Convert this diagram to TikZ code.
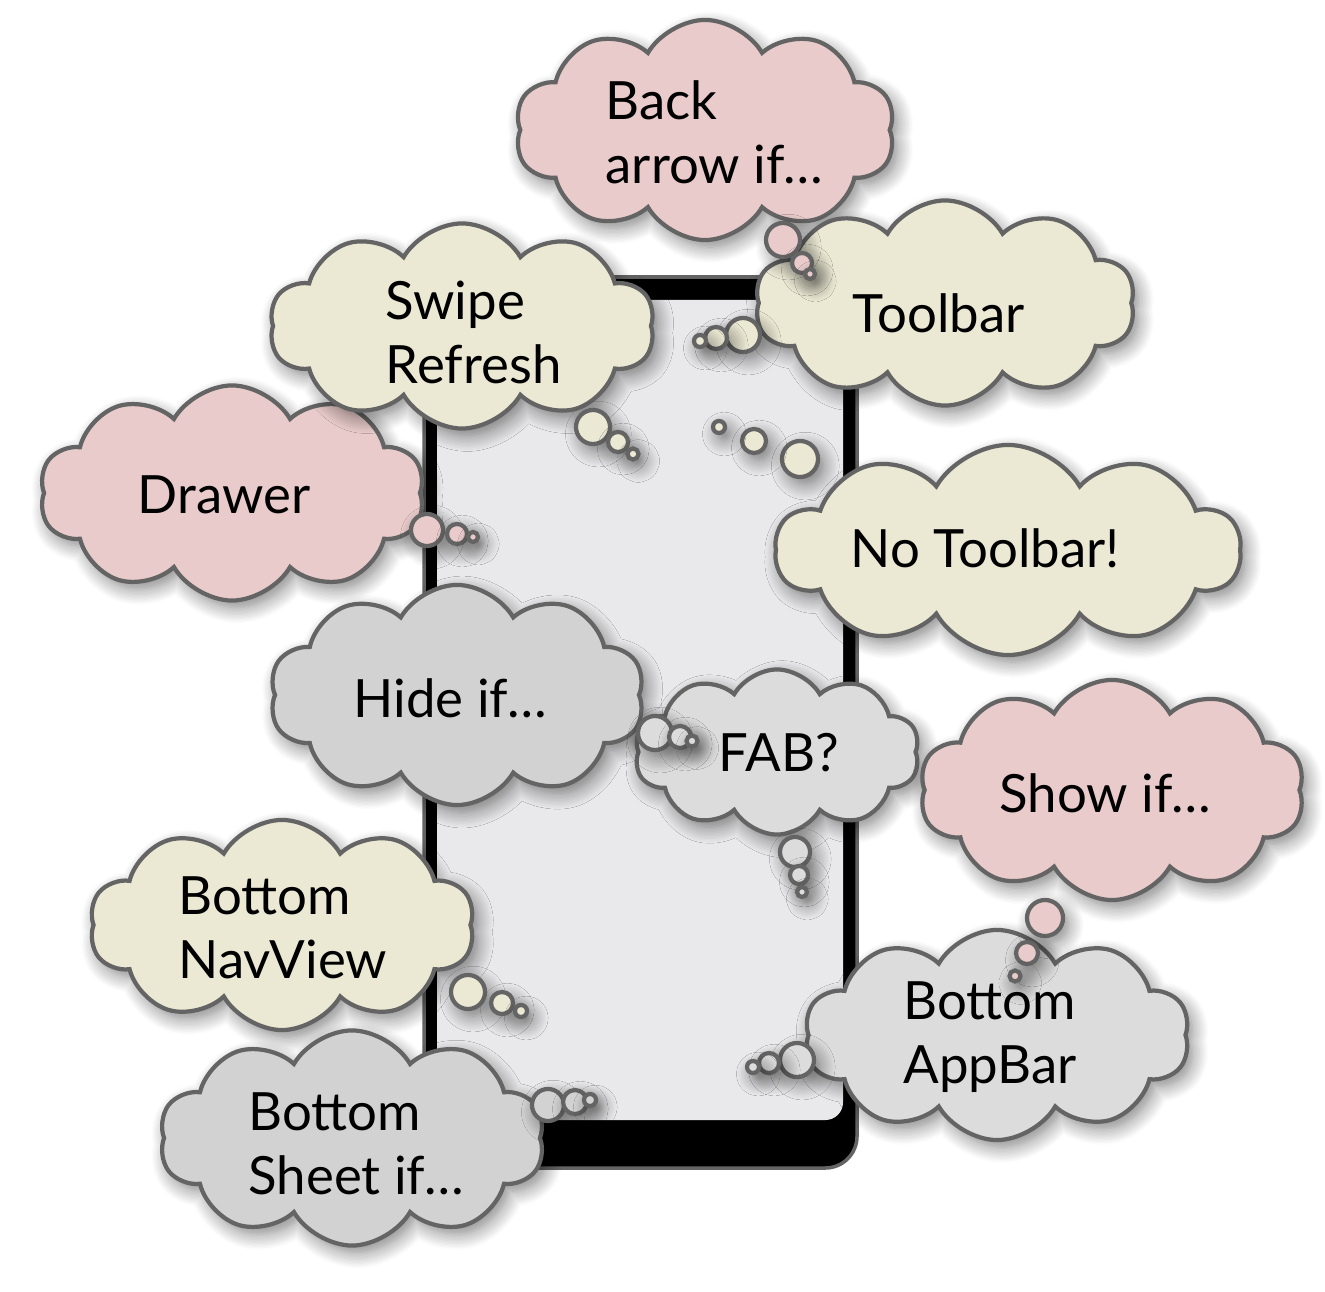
\documentclass[tikz,border=0pt]{standalone}
\usepackage{fontspec}
\setmainfont{Lato}
\usetikzlibrary{shapes.symbols,shadows.blur}
\definecolor{cpink}{HTML}{E8CBCA}
\definecolor{ccream}{HTML}{EBE8D3}
\definecolor{cgrey}{HTML}{D2D2D2}
\definecolor{clight}{HTML}{DCDCDC}
\definecolor{cline}{HTML}{646464}
\definecolor{cscreen}{HTML}{E9E9EB}
\tikzset{
  soft/.style={blur shadow={shadow xshift=1.5pt,shadow yshift=-2pt,shadow blur radius=4.5pt,shadow blur steps=12,shadow opacity=50}},
  puff/.style={cloud,cloud puffs=10,cloud puff arc=120,cloud ignores aspect,
    draw=cline,line width=1.2pt,inner sep=0pt,soft},
  bubble/.style={circle,draw=cline,line width=1.2pt,inner sep=0pt,soft},
  say/.style={font=\fontsize{15}{18.2}\selectfont,align=left,inner sep=0pt,anchor=west}
}

\begin{document}
\begin{tikzpicture}[x=0.01cm,y=-0.01cm]
\useasboundingbox (0,0) rectangle (1325,1292);
            % Phone
\draw[draw=cline,fill=black,line width=1pt,rounded corners=9pt] (424,277) rectangle (857,1168);
\fill[cscreen,rounded corners=5pt] (437,300) rectangle (843,1120);
            % Clouds
\node[puff,fill=cpink,minimum width=3.85cm,minimum height=2.15cm]  (drawer) at (232,493)  {};
\node[puff,fill=ccream,minimum width=3.85cm,minimum height=2.05cm] (swipe)  at (462,326)  {};
\node[puff,fill=cpink,minimum width=3.8cm,minimum height=2.2cm]    (back)   at (705,130)  {};
\node[puff,fill=ccream,minimum width=3.8cm,minimum height=2.05cm]  (tool)   at (945,303)  {};
\node[puff,fill=ccream,minimum width=4.65cm,minimum height=2.1cm]  (notool) at (1008,550) {};
\node[puff,fill=cgrey,minimum width=3.75cm,minimum height=2.2cm]   (hide)   at (457,695)  {};
\node[puff,fill=clight,minimum width=2.85cm,minimum height=1.65cm] (fab)    at (777,752)  {};
\node[puff,fill=cpink,minimum width=3.85cm,minimum height=2.2cm]   (show)   at (1112,790) {};
\node[puff,fill=ccream,minimum width=3.85cm,minimum height=2.1cm]  (nav)    at (282,925)  {};
\node[puff,fill=cgrey,minimum width=3.85cm,minimum height=2.15cm]  (sheet)  at (352,1138) {};
\node[puff,fill=clight,minimum width=3.85cm,minimum height=2.1cm]  (appbar) at (997,1035) {};
            % Texts
\node[say] (drawerT) at (137,495)  {Drawer};
\node[say] (swipeT)  at (385,332)  {Swipe\\Refresh};
\node[say] (backT)   at (605,132)  {Back\\arrow if\ldots};
\node[say] (toolT)   at (852,313)  {Toolbar};
\node[say] (notoolT) at (850,548)  {No Toolbar!};
\node[say] (hideT)   at (353,698)  {Hide if\ldots};
\node[say] (fabT)    at (718,753)  {FAB?};
\node[say] (showT)   at (999,793)  {Show if\ldots};
\node[say] (navT)    at (178,928)  {Bottom\\NavView};
\node[say] (sheetT)  at (248,1144) {Bottom\\Sheet if\ldots};
\node[say] (appbarT) at (903,1037) {Bottom\\AppBar};
            % Bubbles
\node[bubble,fill=cpink,minimum size=0.34cm]  (back1) at (783,240) {};
\node[bubble,fill=cpink,minimum size=0.2cm]   (back2) at (802,263) {};
\node[bubble,fill=cpink,minimum size=0.1cm]   (back3) at (810,274) {};
\node[bubble,fill=ccream,minimum size=0.34cm] (tool1) at (743,335) {};
\node[bubble,fill=ccream,minimum size=0.22cm] (tool2) at (716,338) {};
\node[bubble,fill=ccream,minimum size=0.12cm] (tool3) at (700,341) {};
\node[bubble,fill=ccream,minimum size=0.34cm] (swipe1) at (593,427) {};
\node[bubble,fill=ccream,minimum size=0.2cm]  (swipe2) at (618,442) {};
\node[bubble,fill=ccream,minimum size=0.11cm] (swipe3) at (633,454) {};
\node[bubble,fill=cpink,minimum size=0.32cm]  (drawer1) at (427,530) {};
\node[bubble,fill=cpink,minimum size=0.2cm]   (drawer2) at (457,534) {};
\node[bubble,fill=cpink,minimum size=0.1cm]   (drawer3) at (473,537) {};
\node[bubble,fill=ccream,minimum size=0.36cm] (notool1) at (800,459) {};
\node[bubble,fill=ccream,minimum size=0.24cm] (notool2) at (754,441) {};
\node[bubble,fill=ccream,minimum size=0.12cm] (notool3) at (719,427) {};
\node[bubble,fill=clight,minimum size=0.34cm] (hide1) at (655,733) {};
\node[bubble,fill=clight,minimum size=0.22cm] (hide2) at (680,737) {};
\node[bubble,fill=clight,minimum size=0.11cm] (hide3) at (692,741) {};
\node[bubble,fill=clight,minimum size=0.3cm]  (fab1) at (795,852) {};
\node[bubble,fill=clight,minimum size=0.18cm] (fab2) at (799,875) {};
\node[bubble,fill=clight,minimum size=0.1cm]  (fab3) at (802,892) {};
\node[bubble,fill=cpink,minimum size=0.36cm]  (show1) at (1045,918) {};
\node[bubble,fill=cpink,minimum size=0.22cm]  (show2) at (1027,953) {};
\node[bubble,fill=cpink,minimum size=0.11cm]  (show3) at (1015,976) {};
\node[bubble,fill=ccream,minimum size=0.34cm] (nav1) at (468,992) {};
\node[bubble,fill=ccream,minimum size=0.22cm] (nav2) at (502,1003) {};
\node[bubble,fill=ccream,minimum size=0.12cm] (nav3) at (521,1011) {};
\node[bubble,fill=cgrey,minimum size=0.32cm]  (sheet1) at (548,1105) {};
\node[bubble,fill=cgrey,minimum size=0.24cm]  (sheet2) at (575,1102) {};
\node[bubble,fill=cgrey,minimum size=0.12cm]  (sheet3) at (590,1100) {};
\node[bubble,fill=clight,minimum size=0.34cm] (appbar1) at (797,1060) {};
\node[bubble,fill=clight,minimum size=0.2cm]  (appbar2) at (769,1063) {};
\node[bubble,fill=clight,minimum size=0.12cm] (appbar3) at (753,1067) {};
\end{tikzpicture}
\end{document}
